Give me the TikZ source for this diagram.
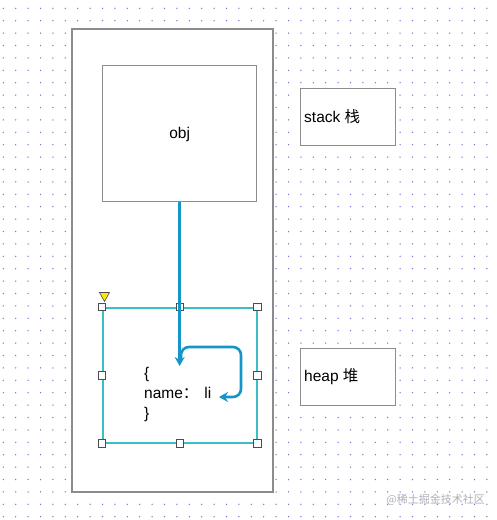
\documentclass[tikz,border=0pt]{standalone}
\usepackage{fontspec}
\setmainfont{Liberation Sans}
\newfontfamily\cjk{Noto Sans CJK SC}
\usetikzlibrary{arrows.meta}
\definecolor{dotc}{RGB}{120,120,210}
\definecolor{boxgray}{RGB}{140,140,140}
\definecolor{arrowblue}{RGB}{20,150,200}
\definecolor{selcyan}{RGB}{60,190,200}
\definecolor{wmgray}{RGB}{175,175,185}
\tikzset{
  plainbox/.style={draw=boxgray,fill=white,line width=1.3pt,inner sep=0pt},
  handle/.style={draw=black!70,fill=white,line width=0.8pt,minimum size=7.5pt,inner sep=0pt},
  flow/.style={draw=arrowblue,line width=2.6pt,-{Stealth[length=9pt,width=10pt,inset=3pt]}},
  lbl/.style={font=\fontsize{15.5}{18}\selectfont,inner sep=0pt}
}
\begin{document}
\begin{tikzpicture}[x=1pt,y=-1pt]
\useasboundingbox (0,0) rectangle (496,520);
\fill[white] (0,0) rectangle (496,520);
\foreach \i in {0,...,39}
  \foreach \j in {0,...,41}
    \fill[dotc] (3.3+12.4*\i,8.3+12.4*\j) circle (0.75);
% outer container
\draw[plainbox] (72,29) rectangle (273,492);
% obj box
\node[plainbox,minimum width=154pt,minimum height=136pt,anchor=north west] (obj) at (102,65) {};
\node[lbl] (objt) at ([yshift=-1pt]obj.center) {obj};
% stack / heap
\node[plainbox,minimum width=95pt,minimum height=57pt,anchor=north west] (stack) at (300,88) {};
\node[lbl,anchor=west] (stackt) at (304,117) {stack {\cjk 栈}};
\node[plainbox,minimum width=95pt,minimum height=57pt,anchor=north west] (heap) at (300,348) {};
\node[lbl,anchor=west] (heapt) at (304,377) {heap {\cjk 堆}};
% selected object node
\node[draw=selcyan,line width=1.5pt,minimum width=154pt,minimum height=135pt,anchor=north west,inner sep=0pt] (sel) at (102,307) {};
\node[lbl,anchor=north west,align=left,font=\fontsize{15.5}{20}\selectfont] (objtext) at (144,367) {\{\\name{\cjk ：}\hspace{6pt}li\\\}};
% handles
\foreach \p in {north west,north,north east,west,east,south west,south,south east}
  \node[handle] at (sel.\p) {};
\fill[yellow!90!orange,draw=black!70,line width=0.6pt] (99.5,292.5) -- (109.5,292.5) -- (104.5,301.5) -- cycle;
% arrows
\coordinate (enda) at (obj.south |- 0,366);
\draw[flow] (obj.south) -- (enda);
\coordinate (loopstart) at (181,360);
\coordinate (loopend) at (219,397);
\draw[flow,rounded corners=8pt] (loopstart) -- (181,347) -- (241,347) -- (241,397) -- (loopend);
% watermark
\node[anchor=east,inner sep=0pt,text=wmgray,font=\fontsize{11}{13}\selectfont] (wm) at (485,500) {{\cjk @稀土掘金技术社区}};
\end{tikzpicture}
\end{document}
